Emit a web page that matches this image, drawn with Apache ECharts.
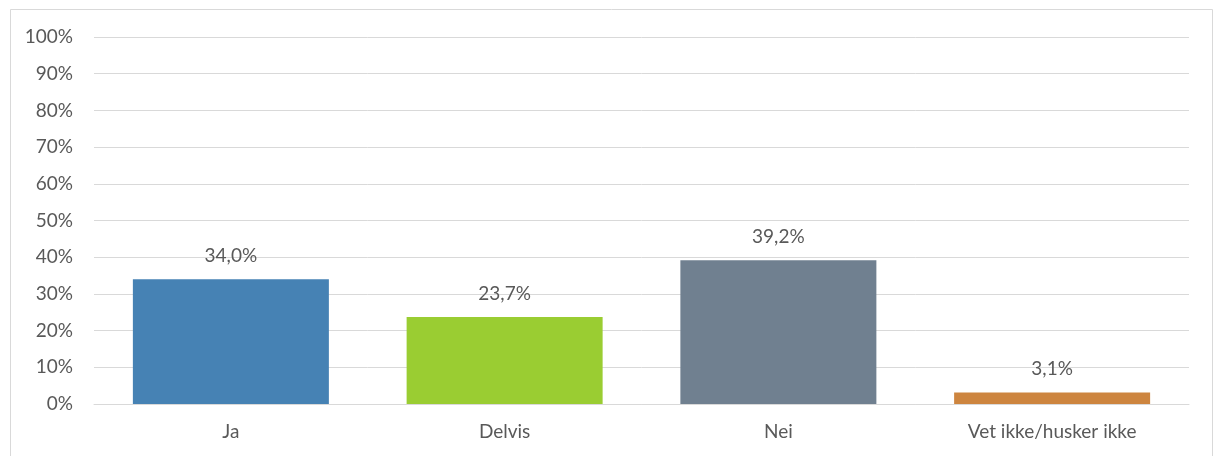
<!DOCTYPE html>
<html>
<head>
<meta charset="utf-8">
<script src="https://cdn.jsdelivr.net/npm/echarts@6/dist/echarts.min.js"></script>
<style>
  html, body { margin: 0; padding: 0; background: #fff; }
  #chart { width: 1214px; height: 456px; }
</style>
</head>
<body>
<div id="chart"></div>
<script>
const categories = ['Ja', 'Delvis', 'Nei', 'Vet ikke/husker ikke'];
const values = [34.0, 23.7, 39.2, 3.1];
const barColors = ['#4682B4', '#9ACD32', '#708090', '#CD853F'];
const yTicks = { min: 0, max: 100, interval: 10 };

const fontFamily = 'Lato, "Open Sans", sans-serif';
const textColor = '#595959';

const chart = echarts.init(document.getElementById('chart'), null, { renderer: 'canvas' });

chart.setOption({
  animation: false,
  backgroundColor: '#ffffff',
  graphic: [{
    type: 'rect',
    left: 8,
    top: 7,
    shape: { width: 1202, height: 470 },
    style: { fill: 'none', stroke: '#d9d9d9', lineWidth: 1 },
    silent: true,
    z: -1
  }],
  grid: { left: 94, right: 25, top: 37, bottom: 52, containLabel: false },
  xAxis: {
    type: 'category',
    data: categories,
    axisLine: { show: true, lineStyle: { color: '#d9d9d9', width: 1 } },
    axisTick: { show: false },
    axisLabel: { color: textColor, fontSize: 19, fontFamily, margin: 18 }
  },
  yAxis: {
    type: 'value',
    min: yTicks.min,
    max: yTicks.max,
    interval: yTicks.interval,
    axisLine: { show: false },
    axisTick: { show: false },
    splitLine: { lineStyle: { color: '#d9d9d9', width: 1 } },
    axisLabel: {
      color: textColor, fontSize: 19, fontFamily, margin: 21,
      formatter: v => v + '%'
    }
  },
  series: [{
    type: 'bar',
    barWidth: '71.6%',
    data: values.map((v, i) => ({ value: v, itemStyle: { color: barColors[i] } })),
    label: {
      show: true,
      position: 'top',
      distance: 14,
      color: textColor,
      fontSize: 19,
      fontFamily,
      formatter: p => p.value.toFixed(1).replace('.', ',') + '%'
    }
  }]
});
</script>
</body>
</html>
